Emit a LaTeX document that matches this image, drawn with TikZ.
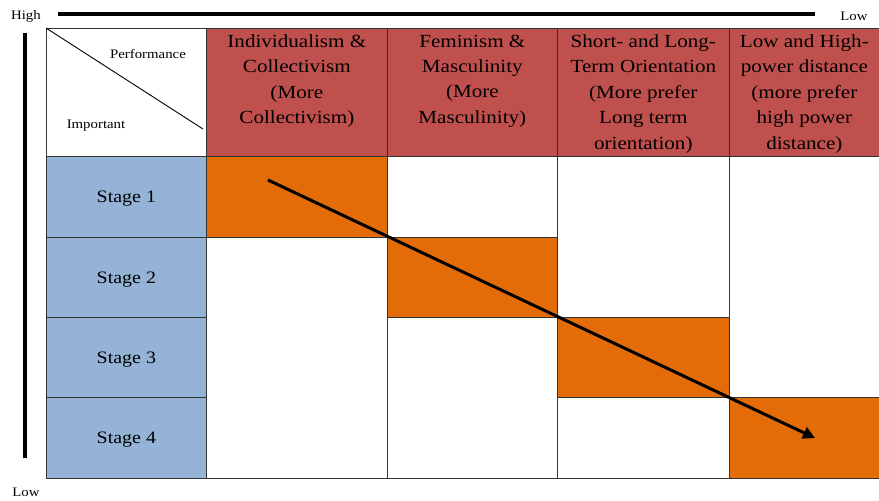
\documentclass[tikz,border=0pt]{standalone}
\usepackage{fontspec}
\setmainfont{Liberation Serif}[FakeStretch=1.14]
\usetikzlibrary{arrows.meta}
\definecolor{hdr}{HTML}{C0504D}
\definecolor{stg}{HTML}{95B3D7}
\definecolor{org}{HTML}{E36C09}
\tikzset{
  cell/.style={draw=black!80, line width=0.7pt, inner sep=0pt, anchor=north west},
  hdrtext/.style={anchor=north, align=center, inner sep=0pt, font=\fontsize{18.5}{25.4}\selectfont},
  stagetext/.style={font=\fontsize{17.5}{20}\selectfont, inner sep=0pt},
  smalltext/.style={font=\fontsize{13}{15}\selectfont, inner sep=0pt},
  axis/.style={line width=4pt},
}
\begin{document}
\begin{tikzpicture}[x=1pt,y=-1pt]
\useasboundingbox (0,0) rectangle (879,501);
% top-left corner cell
\node[cell, fill=white, minimum width=160pt, minimum height=128pt] (corner) at (46,28) {};
% header cells
\node[cell, fill=hdr, minimum width=181pt, minimum height=128pt] (h1) at (206,28) {};
\node[cell, fill=hdr, minimum width=170pt, minimum height=128pt] (h2) at (387,28) {};
\node[cell, fill=hdr, minimum width=172pt, minimum height=128pt] (h3) at (557,28) {};
\node[cell, fill=hdr, minimum width=150pt, minimum height=128pt] (h4) at (729,28) {};
% stage cells
\node[cell, fill=stg, minimum width=160pt, minimum height=81pt] (s1) at (46,156) {};
\node[cell, fill=stg, minimum width=160pt, minimum height=80pt] (s2) at (46,237) {};
\node[cell, fill=stg, minimum width=160pt, minimum height=80pt] (s3) at (46,317) {};
\node[cell, fill=stg, minimum width=160pt, minimum height=81pt] (s4) at (46,397) {};
% orange cells
\node[cell, fill=org, minimum width=181pt, minimum height=81pt] (o1) at (206,156) {};
\node[cell, fill=org, minimum width=170pt, minimum height=80pt] (o2) at (387,237) {};
\node[cell, fill=org, minimum width=172pt, minimum height=80pt] (o3) at (557,317) {};
\node[cell, fill=org, minimum width=150pt, minimum height=81pt] (o4) at (729,397) {};
% white cells
\node[cell, fill=white, minimum width=181pt, minimum height=241pt] (w1) at (206,237) {};
\node[cell, fill=white, minimum width=170pt, minimum height=81pt] (w2a) at (387,156) {};
\node[cell, fill=white, minimum width=170pt, minimum height=161pt] (w2b) at (387,317) {};
\node[cell, fill=white, minimum width=172pt, minimum height=161pt] (w3a) at (557,156) {};
\node[cell, fill=white, minimum width=172pt, minimum height=81pt] (w3b) at (557,397) {};
\node[cell, fill=white, minimum width=150pt, minimum height=241pt] (w4) at (729,156) {};
% corner diagonal
\coordinate (dg) at (203,129);
\draw[line width=0.9pt] (corner.north west) -- (dg);
\node[smalltext] (perf) at (148,54) {Performance};
\node[smalltext] (imp) at (96,126) {Important};
% header texts
\node[hdrtext] (t1) at (h1.north |- 0,34.5) {Individualism \&\\Collectivism\\(More\\Collectivism)};
\node[hdrtext] (t2) at (h2.north |- 0,34.5) {Feminism \&\\Masculinity\\(More\\Masculinity)};
\node[hdrtext] (t3) at (h3.north |- 0,34.5) {Short- and Long-\\Term Orientation\\(More prefer\\Long term\\orientation)};
\node[hdrtext] (t4) at (h4.north |- 0,34.5) {Low and High-\\power distance\\(more prefer\\high power\\distance)};
% stage labels
\node[stagetext] at ([yshift=-2pt]s1.center) {Stage 1};
\node[stagetext] at ([yshift=-2pt]s2.center) {Stage 2};
\node[stagetext] at ([yshift=-2pt]s3.center) {Stage 3};
\node[stagetext] at ([yshift=-2pt]s4.center) {Stage 4};
% axes
\node[smalltext] (hi) at (26,16) {High};
\node[smalltext] (lo1) at (854,16) {Low};
\node[smalltext] (lo2) at (26,492) {Low};
\coordinate (hx1) at (58,14);
\coordinate (hx2) at (815,14);
\coordinate (vy1) at (25,33);
\coordinate (vy2) at (25,458);
\draw[axis] (hx1) -- (hx2);
\draw[axis] (vy1) -- (vy2);
% arrow
\coordinate (as) at (268,180);
\coordinate (ae) at (815,438);
\draw[line width=3pt, -{Triangle[length=12pt,width=12pt]}] (as) -- (ae);
\end{tikzpicture}
\end{document}
